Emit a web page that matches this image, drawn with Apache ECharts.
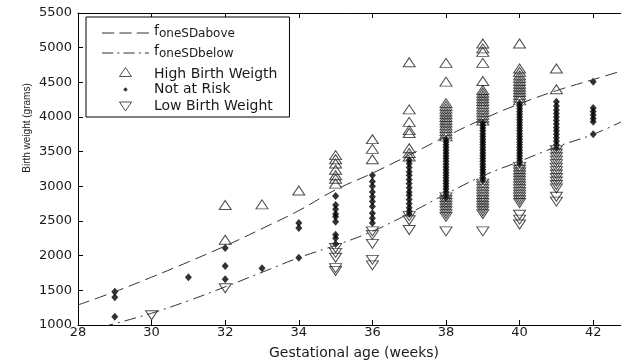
<!DOCTYPE html>
<html><head><meta charset="utf-8">
<script src="https://cdn.jsdelivr.net/npm/echarts@6/dist/echarts.min.js"></script>
<style>html,body{margin:0;padding:0;background:#fff}#c{width:621px;height:360px}</style>
</head><body><div id="c"></div>
<script>
// Reference curves (gestational week, grams)
const oneSDabove = [[28,1290],[29,1480],[30,1690],[31,1910],[32,2140],[33,2390],[34,2650],[35,2950],[36,3190],[37,3450],[38,3720],[39,3970],[40,4190],[41,4380],[42,4540],[43,4700]];
const oneSDbelow = [[28,880],[29,1020],[30,1170],[31,1350],[32,1550],[33,1760],[34,1970],[35,2150],[36,2350],[37,2610],[38,2890],[39,3150],[40,3360],[41,3570],[42,3750],[43,3990]];

// Observations
const highBirthWeight = [
 [32,2730],[32,2230],[33,2740],[34,2940],
 [35,3450],[35,3390],[35,3330],[35,3240],[35,3160],[35,3110],[35,3040],
 [36,3680],[36,3540],[36,3390],
 [37,4790],[37,4110],[37,3930],[37,3810],[37,3770],[37,3550],[37,3480],[37,3430],
 [38,4780],[38,4510],[38,4200],[38,4160],[38,4120],[38,4080],[38,4040],[38,4000],[38,3960],[38,3920],[38,3880],[38,3840],[38,3800],[38,3760],[38,3720],
 [39,5060],[39,4990],[39,4940],[39,4780],[39,4520],[39,4390],[39,4350],[39,4310],[39,4270],[39,4230],[39,4190],[39,4150],[39,4110],[39,4070],[39,4030],[39,3990],[39,3950],
 [40,5060],[40,4700],[40,4650],[40,4600],[40,4560],[40,4520],[40,4480],[40,4440],[40,4400],[40,4360],[40,4320],[40,4280],[40,4240],
 [41,4700],[41,4400]
];
const notAtRisk = [
 [29,1480],[29,1400],[29,1120],[31,1690],[32,2110],[32,1850],[32,1660],[33,1820],
 [34,2470],[34,2400],[34,1970],
 [35,2860],[35,2730],[35,2670],[35,2600],[35,2560],[35,2490],[35,2300],[35,2250],[35,2170],
 [36,3160],[36,3070],[36,3000],[36,2920],[36,2850],[36,2780],[36,2710],[36,2610],[36,2540],[36,2470],
 [37,3380],[37,3330],[37,3270],[37,3210],[37,3160],[37,3100],[37,3040],[37,2980],[37,2920],[37,2870],[37,2810],[37,2750],[37,2690],[37,2640],[37,2600],
 [38,3680],[38,3640],[38,3600],[38,3560],[38,3520],[38,3480],[38,3440],[38,3400],[38,3360],[38,3320],[38,3280],[38,3240],[38,3200],[38,3160],[38,3120],[38,3080],[38,3040],[38,3000],[38,2960],[38,2920],[38,2880],[38,2840],
 [39,3920],[39,3880],[39,3840],[39,3800],[39,3760],[39,3720],[39,3680],[39,3640],[39,3600],[39,3560],[39,3520],[39,3480],[39,3440],[39,3400],[39,3360],[39,3320],[39,3280],[39,3240],[39,3200],[39,3160],[39,3120],[39,3080],
 [40,4200],[40,4160],[40,4120],[40,4080],[40,4040],[40,4000],[40,3960],[40,3920],[40,3880],[40,3840],[40,3800],[40,3760],[40,3720],[40,3680],[40,3640],[40,3600],[40,3560],[40,3520],[40,3480],[40,3440],[40,3400],[40,3360],[40,3320],
 [41,4220],[41,4160],[41,4100],[41,4050],[41,4000],[41,3950],[41,3900],[41,3850],[41,3800],[41,3750],[41,3700],[41,3650],[41,3600],[41,3550],
 [42,4510],[42,4130],[42,4080],[42,4030],[42,3980],[42,3930],[42,3750]
];
const lowBirthWeight = [
 [30,1140],[32,1530],
 [35,2110],[35,2040],[35,1970],[35,1820],[35,1780],
 [36,2350],[36,2300],[36,2170],[36,1940],[36,1860],
 [37,2570],[37,2510],[37,2370],
 [38,2840],[38,2800],[38,2760],[38,2720],[38,2680],[38,2640],[38,2600],[38,2560],[38,2350],
 [39,3040],[39,3000],[39,2960],[39,2920],[39,2880],[39,2840],[39,2800],[39,2760],[39,2720],[39,2680],[39,2640],[39,2600],[39,2350],
 [40,3280],[40,3240],[40,3200],[40,3160],[40,3120],[40,3080],[40,3040],[40,3000],[40,2960],[40,2920],[40,2880],[40,2840],[40,2800],[40,2760],[40,2590],[40,2520],[40,2450],
 [41,3520],[41,3470],[41,3420],[41,3370],[41,3320],[41,3270],[41,3220],[41,3170],[41,3120],[41,3070],[41,3020],[41,2970],[41,2850],[41,2780]
];

const xAxisRange = [28, 43];
const yAxisRange = [1000, 5500];
const xTitle = 'Gestational age (weeks)';
const yTitle = 'Birth weight (grams)';

const FONT = 'DejaVu Sans';
const INK = '#1a1a1a';
const hollow = {color: 'rgba(0,0,0,0)', borderColor: '#222', borderWidth: 1};
const upTri = 'path://M6,0L12,9L0,9Z';
const downTri = 'path://M0,0L12,0L6,9Z';
const dotIcon = 'path://M0,0L0,0M10,10L10,10M5,2.5L7.5,5L5,7.5L2.5,5Z';
const dashIcon = 'path://M0,0L12,0L12,1L0,1Z M17,0L29,0L29,1L17,1Z M34,0L46,0L46,1L34,1Z';
const dashDotIcon = 'path://M0,0L11,0L11,1L0,1Z M15,0L17,0L17,1L15,1Z M21,0L32,0L32,1L21,1Z M36,0L38,0L38,1L36,1Z M42,0L46,0L46,1L42,1Z';

const chart = echarts.init(document.getElementById('c'), null, {renderer: 'canvas'});
chart.setOption({
  animation: false,
  backgroundColor: '#fff',
  grid: {left: 78, top: 13, right: -9, bottom: 35, containLabel: false, outerBoundsMode: 'none'},
  xAxis: [{
    type: 'value', min: xAxisRange[0], max: xAxisRange[1], interval: 2,
    name: xTitle, nameLocation: 'middle', nameGap: 21,
    nameTextStyle: {fontFamily: FONT, fontSize: 14, color: INK},
    axisLine: {show: true, lineStyle: {color: '#000', width: 1}},
    axisTick: {show: true, inside: true, length: 5, lineStyle: {color: '#000'}},
    axisLabel: {fontFamily: FONT, fontSize: 13, color: INK, margin: 1, showMaxLabel: false,
      formatter: function (v) { return String(v); }},
    splitLine: {show: false}
  }, {
    type: 'value', position: 'top', min: xAxisRange[0], max: xAxisRange[1], interval: 2,
    axisLine: {show: true, onZero: false, lineStyle: {color: '#000', width: 1}},
    axisTick: {show: true, inside: true, length: 5, lineStyle: {color: '#000'}},
    axisLabel: {show: false}, splitLine: {show: false}
  }],
  yAxis: [{
    type: 'value', min: yAxisRange[0], max: yAxisRange[1], interval: 500,
    axisLine: {show: true, lineStyle: {color: '#000', width: 1}},
    axisTick: {show: true, inside: true, length: 5, lineStyle: {color: '#000'}},
    axisLabel: {fontFamily: FONT, fontSize: 13, color: INK, margin: 6,
      formatter: function (v) { return String(v); }},
    splitLine: {show: false}
  }],
  legend: {
    orient: 'vertical', left: 86, top: 17,
    padding: [6, 12, 2, 16], itemGap: 0, itemWidth: 47, itemHeight: 9,
    backgroundColor: '#fff', borderColor: '#000', borderWidth: 1, borderRadius: 0,
    textStyle: {fontFamily: FONT, fontSize: 14, color: INK, lineHeight: 17,
      rich: {
        f: {fontFamily: FONT, fontSize: 14, color: INK, lineHeight: 16, padding: [1, 0, 5, 0]},
        s: {fontFamily: FONT, fontSize: 12, color: INK, lineHeight: 14, padding: [0, 0, 1, 0], verticalAlign: 'bottom'},
        h: {fontFamily: FONT, fontSize: 14, color: INK, lineHeight: 17, padding: [4, 0, 0, 0]}
      }},
    formatter: function (name) {
      if (name === 'foneSDabove') return '{f|f}{s|oneSDabove}';
      if (name === 'foneSDbelow') return '{f|f}{s|oneSDbelow}';
      if (name === 'High Birth Weigth') return '{h|High Birth Weigth}';
      return name;
    },
    data: [
      {name: 'foneSDabove', icon: dashIcon, itemStyle: {color: '#333', borderWidth: 0}},
      {name: 'foneSDbelow', icon: dashDotIcon, itemStyle: {color: '#333', borderWidth: 0}},
      {name: 'High Birth Weigth', icon: upTri, itemStyle: hollow},
      {name: 'Not at Risk', icon: dotIcon, itemStyle: {color: '#000', borderWidth: 0}},
      {name: 'Low Birth Weight', icon: downTri, itemStyle: hollow}
    ]
  },
  graphic: [{
    type: 'text', x: 27, y: 128, rotation: Math.PI / 2,
    style: {text: yTitle, fontFamily: 'Liberation Sans', fontSize: 10, fill: INK, align: 'center', verticalAlign: 'middle'}
  }],
  series: [
    {name: 'foneSDabove', type: 'line', data: oneSDabove, symbol: 'none', smooth: 0.4, clip: true,
     itemStyle: {color: '#333'}, lineStyle: {color: '#333', width: 1, type: [12, 6]}, z: 3},
    {name: 'foneSDbelow', type: 'line', data: oneSDbelow, symbol: 'none', smooth: 0.4, clip: true,
     itemStyle: {color: '#333'}, lineStyle: {color: '#333', width: 1, type: [12, 5, 2, 5]}, z: 3},
    {name: 'High Birth Weigth', type: 'scatter', data: highBirthWeight, symbol: upTri, symbolSize: [12, 9],
     itemStyle: hollow, z: 2},
    {name: 'Not at Risk', type: 'scatter', data: notAtRisk, symbol: 'diamond', symbolSize: [7, 8],
     itemStyle: {color: '#000'}, z: 2},
    {name: 'Low Birth Weight', type: 'scatter', data: lowBirthWeight, symbol: downTri, symbolSize: [12, 9],
     itemStyle: hollow, z: 2}
  ]
});
</script></body></html>
